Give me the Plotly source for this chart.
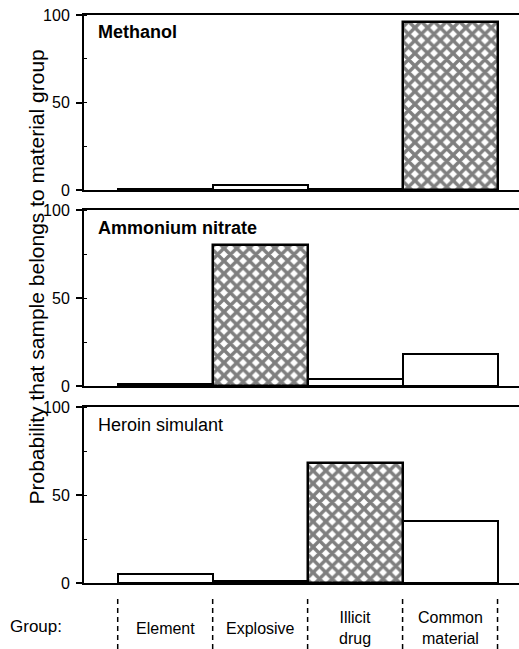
import numpy as np
import plotly.graph_objects as go

categories = ["Element", "Explosive", "Illicit<br>drug", "Common<br>material"]
samples = ["Methanol", "Ammonium nitrate", "Heroin simulant"]
methanol = [0.5, 3, 0.5, 96]
ammonium_nitrate = [1, 80, 4, 18]
heroin_simulant = [5, 1, 68, 35]
series = [methanol, ammonium_nitrate, heroin_simulant]
y_ticks = [0, 50, 100]
y_title = "Probability that sample belongs to material group"

W, H = 519, 649
FONT = "Liberation Sans, Arial, sans-serif"

xpos = np.arange(len(categories))
bounds = np.arange(len(categories) + 1) - 0.5

fig = go.Figure()

x_dom = [84 / W, 1.0]
x_rng = [-0.855, 3.726]
panel_px = [(15, 190), (210, 386), (407, 583)]
group_px = (595, 649)

for i, (name, vals) in enumerate(zip(samples, series)):
    top = int(np.argmax(vals))
    axn = "" if i == 0 else str(i + 1)
    plain = [v if j != top else None for j, v in enumerate(vals)]
    hatched = [v if j == top else None for j, v in enumerate(vals)]
    fig.add_trace(go.Bar(x=xpos, y=plain, width=1, xaxis="x" + axn, yaxis="y" + axn,
                         marker=dict(color="white", line=dict(color="black", width=2)),
                         showlegend=False))
    fig.add_trace(go.Bar(x=xpos, y=hatched, width=1, xaxis="x" + axn, yaxis="y" + axn,
                         marker=dict(color="white", line=dict(color="black", width=2.5),
                                     pattern=dict(shape="x", fgcolor="black", bgcolor="white",
                                                  size=9, solidity=0.62)),
                         showlegend=False))
    t, b = panel_px[i]
    fig.update_layout(**{
        "xaxis" + axn: dict(domain=x_dom, range=x_rng, showline=True, mirror=True,
                            linecolor="black", linewidth=2, showticklabels=False, ticks="",
                            showgrid=False, zeroline=False, fixedrange=True,
                            anchor="y" + axn),
        "yaxis" + axn: dict(domain=[1 - b / H, 1 - t / H], range=[0, 100], showline=True,
                            linecolor="black", linewidth=2, ticks="outside", ticklen=6,
                            tickwidth=1.5, tickcolor="black", tickvals=y_ticks,
                            tickfont=dict(family=FONT, size=16, color="black"),
                            ticklabelstandoff=3, automargin=False,
                            minor=dict(dtick=25, ticks="inside", ticklen=3, tickwidth=1,
                                       tickcolor="black"),
                            showgrid=False, zeroline=False, anchor="x" + axn),
    })
    fig.add_annotation(text=name, xref="x%s domain" % axn, yref="y%s domain" % axn,
                       x=0.028, y=0.9, xanchor="left", yanchor="middle", showarrow=False,
                       font=dict(family=FONT, size=18, color="black",
                                 weight="bold" if i < 2 else "normal"))

# group row
fig.update_layout(
    xaxis4=dict(domain=x_dom, range=x_rng, visible=False, anchor="y4"),
    yaxis4=dict(domain=[1 - group_px[1] / H, 1 - group_px[0] / H], range=[0, 1],
                visible=False, anchor="x4"),
)
lx, ly = [], []
for bx in bounds:
    lx += [bx, bx, None]
    ly += [0, 1, None]
fig.add_trace(go.Scatter(x=lx, y=ly, mode="lines", xaxis="x4", yaxis="y4",
                         line=dict(color="black", width=1.5, dash="5px,4px"),
                         showlegend=False, hoverinfo="skip"))
for xp, c in zip(xpos, categories):
    fig.add_annotation(text=c, x=xp, y=0.38, xref="x4", yref="y4", showarrow=False,
                       font=dict(family=FONT, size=16, color="black"))
fig.add_annotation(text="Group:", xref="paper", yref="y4", x=8 / W, y=0.41,
                   xanchor="left", showarrow=False,
                   font=dict(family=FONT, size=17, color="black"))

fig.add_annotation(text=y_title, xref="paper", yref="paper", x=22 / W, y=1 - 277 / H,
                   textangle=-90, showarrow=False,
                   font=dict(family=FONT, size=21, color="black"))

fig.update_layout(width=W, height=H,
                  margin=dict(l=0, r=0, t=0, b=0, pad=0, autoexpand=False),
                  paper_bgcolor="white", plot_bgcolor="white", bargap=0,
                  barmode="overlay", showlegend=False)

fig.write_html("out.html")
